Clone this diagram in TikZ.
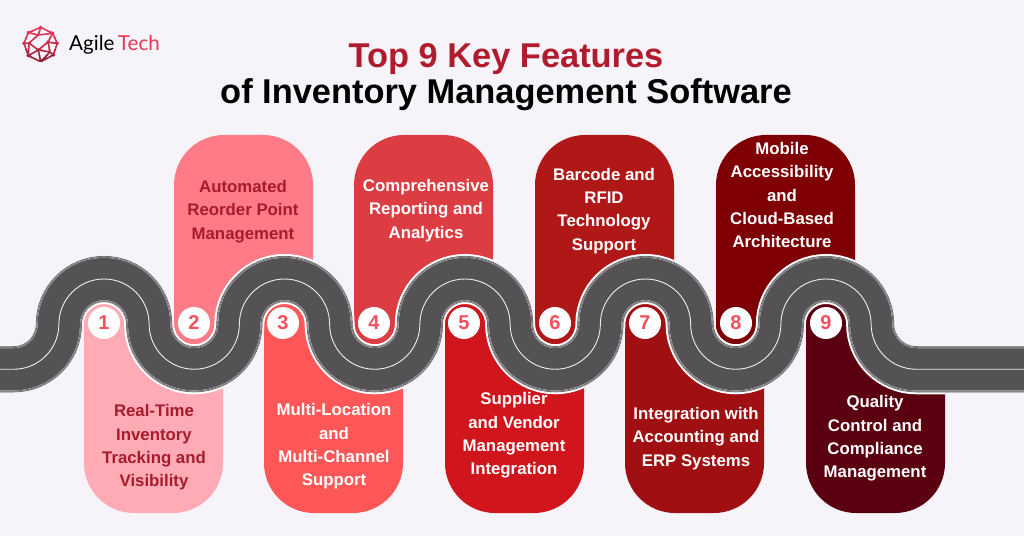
\documentclass[tikz,border=0pt]{standalone}
\usepackage{fontspec}
\setmainfont{Liberation Sans}
\newfontfamily\logofont{Lato}
\definecolor{pagebg}{HTML}{F6F4F8}
\definecolor{roadgray}{HTML}{545255}
\definecolor{roadedge}{HTML}{BDBCBE}
\definecolor{cardone}{HTML}{FFABB6}
\definecolor{cardtwo}{HTML}{FF7B88}
\definecolor{cardthree}{HTML}{FF5757}
\definecolor{cardfour}{HTML}{DC3D42}
\definecolor{cardfive}{HTML}{D0151C}
\definecolor{cardsix}{HTML}{B01818}
\definecolor{cardseven}{HTML}{A00F12}
\definecolor{cardeight}{HTML}{7E0005}
\definecolor{cardnine}{HTML}{5A0010}
\definecolor{darklabel}{HTML}{A61C2C}
\definecolor{stopnum}{HTML}{F2505F}
\definecolor{titlered}{HTML}{B01C2E}
\definecolor{logopink}{HTML}{E8385A}
\definecolor{logodark}{HTML}{8A1C30}
\tikzset{
	stopdot/.style={circle,fill=white,minimum size=32pt,inner sep=0pt,text=stopnum,font=\fontsize{20}{20}\selectfont\bfseries},
	cardlabel/.style={align=center,text=white,inner sep=0pt,font=\fontsize{16.8}{23.3}\selectfont\bfseries},
	darkcard/.style={cardlabel,text=darklabel},
	titleline/.style={inner sep=0pt,font=\fontsize{34.4}{34.4}\selectfont\bfseries},
}
% centre line of the road
\def\roadline{(0,166.75) -- (13.75,166.75) arc[start angle=-90,end angle=0,radius=45.125]
	arc[start angle=180,end angle=0,radius=45.125] arc[start angle=180,end angle=360,radius=45.125]
	arc[start angle=180,end angle=0,radius=45.125] arc[start angle=180,end angle=360,radius=45.125]
	arc[start angle=180,end angle=0,radius=45.125] arc[start angle=180,end angle=360,radius=45.125]
	arc[start angle=180,end angle=0,radius=45.125] arc[start angle=180,end angle=360,radius=45.125]
	arc[start angle=180,end angle=0,radius=45.125] arc[start angle=180,end angle=270,radius=45.125]
	-- (1024,166.75)}
\begin{document}
\begin{tikzpicture}[x=1pt,y=1pt]
	\useasboundingbox (0,0) rectangle (1024,536);
	\fill[pagebg] (0,0) rectangle (1024,536);
	% cards below the road
	\foreach \cardx/\cardcol in {84/cardone,264/cardthree,445/cardfive,625/cardseven,806/cardnine}{
		\begin{scope}
			\clip \roadline -- (1024,0) -- (0,0) -- cycle;
			\clip[rounded corners=50pt] (\cardx,23) rectangle ++(139,327);
			\fill[\cardcol] (0,0) rectangle (1024,536);
			\draw[white,line width=50pt] \roadline;
		\end{scope}
	}
	% cards above the road
	\foreach \cardx/\cardcol in {174/cardtwo,354/cardfour,535/cardsix,716/cardeight}{
		\begin{scope}
			\clip \roadline -- (1024,536) -- (0,536) -- cycle;
			\clip[rounded corners=50pt] (\cardx,401) rectangle ++(139,-351);
			\fill[\cardcol] (0,0) rectangle (1024,536);
			\draw[white,line width=50pt] \roadline;
		\end{scope}
	}
	% road
	\draw[roadgray,line width=46pt] \roadline;
	\draw[roadedge,line width=44.8pt] \roadline;
	\draw[roadgray,line width=44pt] \roadline;
	\draw[roadedge,line width=43pt] \roadline;
	\draw[roadgray,line width=42pt] \roadline;
	\draw[white!90!roadgray,line width=0.9pt] \roadline;
	% stops
	\foreach \n/\stopx in {1/104,2/194,3/283,4/374,5/464,6/555,7/645,8/736,9/826}{
		\node[stopdot] (stop\n) at (\stopx,213) {\n};
	}
	% card labels
	\node[darkcard] (label1) at (154,88.5) {Real-Time\\Inventory\\Tracking and\\Visibility};
	\node[darkcard] (label2) at (243,324.5) {Automated\\Reorder Point\\Management};
	\node[cardlabel] (label3) at (334,89.5) {Multi-Location\\and\\Multi-Channel\\Support};
	\node[cardlabel] (label4) at (426,325.5) {Comprehensive\\Reporting and\\Analytics};
	\node[cardlabel] (label5) at (514,100.5) {Supplier\\and Vendor\\Management\\Integration};
	\node[cardlabel] (label6) at (604,325) {Barcode and\\RFID\\Technology\\Support};
	\node[cardlabel] (label7) at (696,97.5) {Integration with\\Accounting and\\ERP Systems};
	\node[cardlabel] (label8) at (782,341) {Mobile\\Accessibility\\and\\Cloud-Based\\Architecture};
	\node[cardlabel] (label9) at (875,97.5) {Quality\\Control and\\Compliance\\Management};
	% title
	\node[titleline,text=titlered] (title) at (506,476.5) {Top 9 Key Features};
	\node[titleline,text=black] (subtitle) at (506,441) {of Inventory Management Software};
	% logo
	\foreach \bandy/\bandpct in {26/100,32/90,38/75,44/60,50/40,56/15}{
		\begin{scope}[shift={(0,536)},yscale=-1]
			\clip (20,\bandy) rectangle (62,\bandy+6);
			\draw[line width=1.6pt,draw=logopink!\bandpct!logodark]
				(40.7,27.3) -- (52.7,33.3) -- (57.3,43.3) -- (53.3,55) -- (40.7,61.7) -- (28.3,55.7) -- (24,43.3) -- (28.3,32.7) -- cycle
				(40.7,27.3) -- (38.3,35) -- (28.3,32.7) (38.3,35) -- (52.7,33.3) -- (48,42) -- (57.3,43.3)
				(38.3,35) -- (29,43) -- (38.3,50) -- (48,42) (24,43.3) -- (29,43) -- (28.3,55.7) -- (38.3,50) -- (40.7,61.7)
				(38.3,50) -- (50,52) -- (53.3,55) (50,52) -- (48,42) (50,52) -- (40.7,61.7);
			\foreach \dotx/\doty in {40.7/27.3,52.7/33.3,57.3/43.3,53.3/55,40.7/61.7,28.3/55.7,24/43.3,28.3/32.7,38.3/50,48/42}{
				\fill[logopink!\bandpct!logodark] (\dotx,\doty) circle [radius=1.8pt];
			}
		\end{scope}
	}
	\node[inner sep=0pt,anchor=west,font=\logofont\fontsize{20.6}{20.6}\selectfont] (logotext) at (69,491) {Agile\,\textcolor{logopink}{Tech}};
\end{tikzpicture}
\end{document}
